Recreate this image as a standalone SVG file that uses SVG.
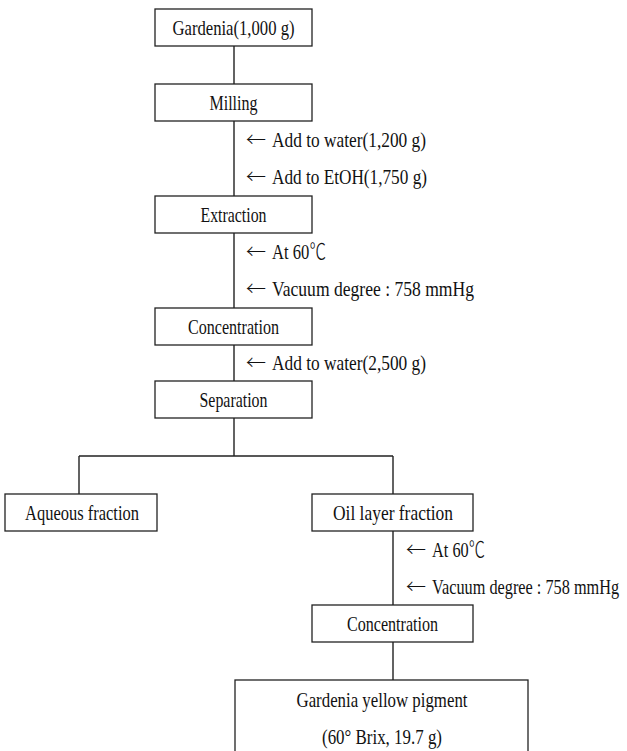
<svg xmlns="http://www.w3.org/2000/svg" width="627" height="751" viewBox="0 0 627 751">
<style>
.box{fill:#fff;stroke:#222;stroke-width:1.3}
.ln{fill:none;stroke:#222;stroke-width:1.4}
text{font-family:"Liberation Serif","Noto Sans CJK KR",serif;font-size:22px;fill:#111}
.c{text-anchor:middle}
.ar{font-family:"Noto Sans CJK KR","DejaVu Sans",sans-serif;font-weight:300;font-size:20px}
.lt{font-weight:300}
</style>
<rect width="627" height="751" fill="#fff"/>
<g id="connectors">
<path class="ln" d="M234 46V84M234 121V196M234 233V308M234 345V381M234 418V456M79 456H393M79 456V494M393 456V494M393 531V605M393 642V680"/>
</g>
<g id="n-gardenia"><rect class="box" x="155" y="9" width="157" height="37"/><text class="c" x="233.5" y="35" textLength="122" lengthAdjust="spacingAndGlyphs">Gardenia(1,000 g)</text></g>
<g id="n-milling"><rect class="box" x="155" y="84" width="157" height="37"/><text class="c" x="233.5" y="110" textLength="48" lengthAdjust="spacingAndGlyphs">Milling</text></g>
<g id="a-1"><text class="ar" x="246" y="147">←</text><text x="272" y="147" textLength="154" lengthAdjust="spacingAndGlyphs">Add to water(1,200 g)</text></g>
<g id="a-2"><text class="ar" x="246" y="184">←</text><text x="272" y="184" textLength="155" lengthAdjust="spacingAndGlyphs">Add to EtOH(1,750 g)</text></g>
<g id="n-extraction"><rect class="box" x="155" y="196" width="157" height="37"/><text class="c" x="233.5" y="222" textLength="66" lengthAdjust="spacingAndGlyphs">Extraction</text></g>
<g id="a-3"><text class="ar" x="246" y="259">←</text><text class="lt" x="272" y="259" textLength="54" lengthAdjust="spacingAndGlyphs">At 60℃</text></g>
<g id="a-4"><text class="ar" x="246" y="296">←</text><text x="272" y="296" textLength="202" lengthAdjust="spacingAndGlyphs">Vacuum degree : 758 mmHg</text></g>
<g id="n-concentration1"><rect class="box" x="155" y="308" width="157" height="37"/><text class="c" x="233.5" y="334" textLength="91" lengthAdjust="spacingAndGlyphs">Concentration</text></g>
<g id="a-5"><text class="ar" x="246" y="370">←</text><text x="272" y="370" textLength="154" lengthAdjust="spacingAndGlyphs">Add to water(2,500 g)</text></g>
<g id="n-separation"><rect class="box" x="155" y="381" width="157" height="37"/><text class="c" x="233.5" y="407" textLength="68" lengthAdjust="spacingAndGlyphs">Separation</text></g>
<g id="n-aqueous"><rect class="box" x="5" y="494" width="152" height="37"/><text class="c" x="82" y="520" textLength="114" lengthAdjust="spacingAndGlyphs">Aqueous fraction</text></g>
<g id="n-oil"><rect class="box" x="312" y="494" width="161" height="37"/><text class="c" x="393" y="520" textLength="120" lengthAdjust="spacingAndGlyphs">Oil layer fraction</text></g>
<g id="a-6"><text class="ar" x="406" y="557">←</text><text class="lt" x="432" y="557" textLength="53" lengthAdjust="spacingAndGlyphs">At 60℃</text></g>
<g id="a-7"><text class="ar" x="406" y="594">←</text><text transform="translate(432 594) scale(0.74 1)">Vacuum degree : 758 mmHg</text></g>
<g id="n-concentration2"><rect class="box" x="312" y="605" width="161" height="37"/><text class="c" x="392.5" y="631" textLength="91" lengthAdjust="spacingAndGlyphs">Concentration</text></g>
<g id="n-pigment"><rect class="box" x="235" y="680" width="293" height="80"/><text class="c" x="382" y="707" textLength="171" lengthAdjust="spacingAndGlyphs">Gardenia yellow pigment</text><text class="c" x="382" y="744" textLength="120" lengthAdjust="spacingAndGlyphs">(60° Brix, 19.7 g)</text></g>
</svg>
